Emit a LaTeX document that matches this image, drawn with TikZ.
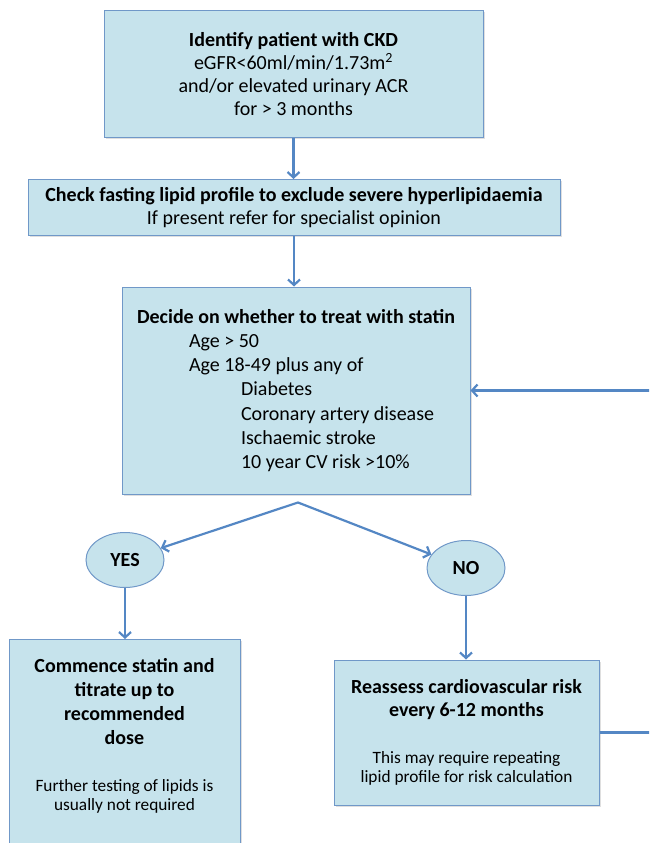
\documentclass[tikz,border=0pt]{standalone}
\usepackage{fontspec}
\setmainfont{Carlito}
\usepackage{xcolor}
\usetikzlibrary{calc,arrows.meta,shapes.geometric,shadows}
\definecolor{boxfill}{RGB}{198,227,236}
\definecolor{boxline}{RGB}{112,152,200}
\definecolor{flowblue}{RGB}{84,135,196}
\newcommand{\bodysize}{\fontsize{20}{23}\selectfont}
\newcommand{\notesize}{\fontsize{17.3}{19.5}\selectfont}
\tikzset{box/.style={draw=boxline,fill=boxfill,line width=1pt,align=flush center,font=\bodysize,
    drop shadow={shadow xshift=1.5pt,shadow yshift=-1.5pt,opacity=0.25}}}
\tikzset{answer/.style={ellipse,draw=boxline,fill=boxfill,line width=1pt,inner sep=0pt,
    minimum width=78pt,minimum height=55pt,font=\bodysize\bfseries}}
\tikzset{flow/.style={draw=flowblue,line width=2.2pt}}

\begin{document}
\begin{tikzpicture}[x=1pt,y=-1pt,>={Straight Barb[length=5.5pt,width=12pt]}]

	\clip (0,0) rectangle (649,843);

	% Identify patient with CKD
	\node [box,minimum width=379pt,minimum height=126pt,font=\fontsize{20}{22.7}\selectfont] (ckd)
		at (293.5,74)
		{\textbf{Identify patient with CKD}\\
		 eGFR<60ml/min/1.73m\textsuperscript{2}\\
		 and/or elevated urinary ACR\\
		 for > 3 months};

	% Fasting lipid profile
	\node [box,minimum width=532pt,minimum height=56pt] (lipid) at (294,207.5)
		{\textbf{Check fasting lipid profile to exclude severe hyperlipidaemia}\\
		 If present refer for specialist opinion};

	% Decide on statin
	\node [box,align=flush left,minimum width=348pt,minimum height=207pt,
	       font=\fontsize{20}{24.3}\selectfont] (decide) at (296,390.5)
		{\textbf{Decide on whether to treat with statin}\\
		 \hspace*{52pt}Age > 50\\
		 \hspace*{52pt}Age 18-49 plus any of\\
		 \hspace*{104pt}Diabetes\\
		 \hspace*{104pt}Coronary artery disease\\
		 \hspace*{104pt}Ischaemic stroke\\
		 \hspace*{104pt}10 year CV risk >10\%};

	% YES / NO
	\node [answer] (yes) at (125,560) {YES};
	\node [answer] (no)  at (466,568) {NO};

	% Commence statin
	\node [box,anchor=north,text width=215pt,inner xsep=8pt,inner ysep=19pt,text depth=220pt] (commence)
		at (124.5,639)
		{{\fontsize{20}{24}\selectfont\bfseries Commence statin and\\ titrate up to\\ recommended\\ dose\par}
		 \vspace{28pt}
		 {\fontsize{17.3}{19}\selectfont Further testing of lipids is\\ usually not required\par}};

	% Reassess risk
	\node [box,text width=251pt,inner xsep=7pt,minimum height=145pt] (reassess) at (466.5,732.5)
		{{\fontsize{20}{23}\selectfont\bfseries Reassess cardiovascular risk\\ every 6-12 months\par}
		 \vspace{27pt}
		 {\notesize This may require repeating\\ lipid profile for risk calculation\par}};

	% Flechas
	\draw [flow,->] (ckd.south) -- (ckd.south |- lipid.north);
	\draw [flow,->] (lipid.south) -- (lipid.south |- decide.north);

	\coordinate (fork) at ($(decide.south) + (2,8)$);
	\draw [flow,<->] (yes) -- (fork) -- (no);

	\draw [flow,->] (yes.south) -- (yes.south |- commence.north);
	\draw [flow,->] (no.south) -- (no.south |- reassess.north);

	% Back to the decision
	\draw [flow,->] (reassess.east) -- ++(80,0) |- (decide.east);

\end{tikzpicture}
\end{document}
